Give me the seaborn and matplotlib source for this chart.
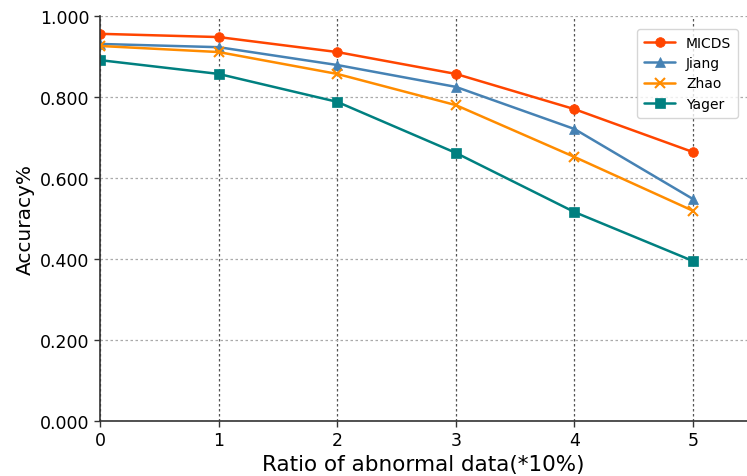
import matplotlib
matplotlib.use("Agg")
import matplotlib.pyplot as plt
import seaborn as sns
import pandas as pd

ratios = [0, 1, 2, 3, 4, 5]
micds = [0.956, 0.948, 0.911, 0.857, 0.770, 0.664]
jiang = [0.931, 0.923, 0.879, 0.825, 0.721, 0.548]
zhao = [0.926, 0.911, 0.857, 0.780, 0.652, 0.519]
yager = [0.891, 0.857, 0.788, 0.662, 0.516, 0.395]

methods = ["MICDS", "Jiang", "Zhao", "Yager"]
colors = ["#ff4500", "#4682b4", "#ff8c00", "#008080"]
markers = ["o", "^", "x", "s"]

df = pd.DataFrame({"ratio": ratios * 4,
                   "acc": micds + jiang + zhao + yager,
                   "method": [m for m in methods for _ in ratios]})

sns.set_style("white")
plt.rcParams['font.family'] = ['DejaVu Sans']
plt.rcParams['text.color'] = 'black'

fig = plt.figure(figsize=(7.47, 4.77), dpi=100)
ax = fig.add_axes([100 / 747, 1 - 422 / 477, 647 / 747, 405 / 477])

for m, c, mk in zip(methods, colors, markers):
    sub = df[df["method"] == m]
    sns.lineplot(x=sub["ratio"], y=sub["acc"], ax=ax, color=c, marker=mk,
                 markersize=7, linewidth=1.8, label=m,
                 markeredgecolor=c, markeredgewidth=1.5 if mk == "x" else 0.5)

ax.set_xlim(0, 5.455)
ax.set_ylim(0, 1.0)
ax.set_xticks(ratios)
ax.set_yticks([0, 0.2, 0.4, 0.6, 0.8, 1.0])
ax.set_yticklabels(["%.3f" % v for v in [0, 0.2, 0.4, 0.6, 0.8, 1.0]])
ax.tick_params(axis="both", labelsize=12.5, length=4, width=1, direction="out",
               bottom=True, left=True, colors="#333333", labelcolor="black")
ax.xaxis.grid(True, linestyle=(0, (2, 2)), color="#555555", linewidth=0.9)
ax.yaxis.grid(True, linestyle=(0, (2, 2)), color="#aaaaaa", linewidth=0.9)
for s in ["top", "right"]:
    ax.spines[s].set_visible(False)
for s in ["left", "bottom"]:
    ax.spines[s].set_color("#333333")
    ax.spines[s].set_linewidth(1.2)

ax.set_xlabel("Ratio of abnormal data(*10%)", fontsize=15.5, color="black", labelpad=3)
ax.set_ylabel("Accuracy%", fontsize=14.5, color="black")

leg = ax.legend(loc="upper right", bbox_to_anchor=(0.997, 0.985), fontsize=10,
                frameon=True, handlelength=2.2, borderpad=0.5, labelspacing=0.45)
leg.get_frame().set_edgecolor("#cccccc")

fig.savefig("out.png", dpi=100)
